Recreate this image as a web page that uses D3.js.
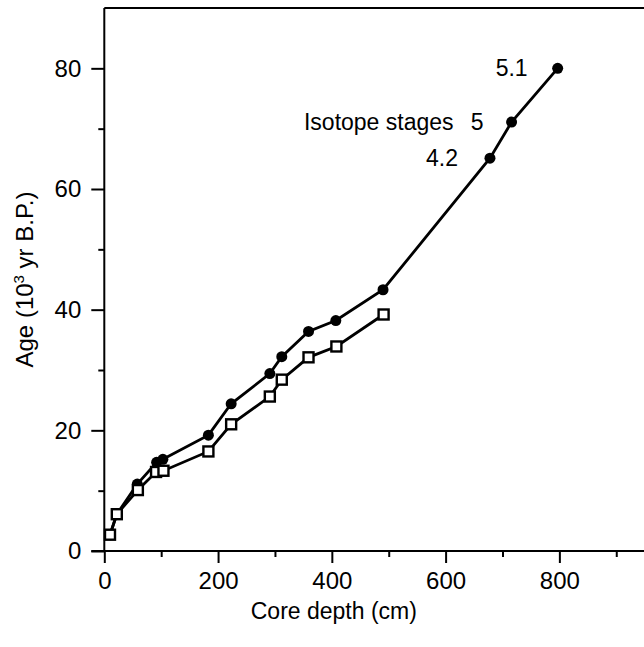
<!DOCTYPE html>
<html>
<head>
<meta charset="utf-8">
<script src="https://cdn.jsdelivr.net/npm/d3@7"></script>
<style>
  body { margin: 0; background: #fff; }
  text { font-family: "Liberation Sans", Arial, sans-serif; fill: #000; }
</style>
</head>
<body>
<div id="chart"></div>
<script>
// Age model, filled circles (depth in cm, age in 10^3 yr B.P.)
const circleDepth = [10, 22, 58, 92, 103, 183, 223, 291, 312, 359, 407, 490, 678, 716, 797];
const circleAge   = [2.7, 6.1, 11.1, 14.7, 15.2, 19.2, 24.4, 29.4, 32.2, 36.4, 38.2, 43.3, 65.1, 71.1, 80];

// Open squares
const squareDepth = [10, 22, 59, 91, 104, 183, 223, 291, 312, 359, 408, 491];
const squareAge   = [2.7, 6.1, 10.1, 13.1, 13.3, 16.5, 21.0, 25.6, 28.4, 32.1, 33.9, 39.2];

const xTicks = [0, 200, 400, 600, 800];
const xMinor = [100, 300, 500, 700, 900];
const yTicks = [0, 20, 40, 60, 80];
const yMinor = [10, 30, 50, 70];

// labels for the last three circles
const stageLabels = [
    { idx: 12, text: "4.2", dx: -32 },
    { idx: 13, text: "5", dx: -28 },
    { idx: 14, text: "5.1", dx: -30 }
];
const stageTitle = "Isotope stages";

const width = 644, height = 647;
const margin = { top: 8, left: 104.3, bottom: 96 };

const svg = d3.select("#chart").append("svg")
    .attr("width", width)
    .attr("height", height);

const x = d3.scaleLinear().domain([0, 950]).range([margin.left, margin.left + 540.4]);
const y = d3.scaleLinear().domain([0, 90]).range([height - margin.bottom, margin.top]);

const g = svg.append("g");

// minor ticks
g.append("g")
    .attr("transform", `translate(0,${y(0)})`)
    .call(d3.axisBottom(x).tickValues(xMinor).tickSize(6).tickFormat(""))
    .call(a => a.select(".domain").remove())
    .call(a => a.selectAll("line").attr("stroke-width", 2));
g.append("g")
    .attr("transform", `translate(${x(0)},0)`)
    .call(d3.axisLeft(y).tickValues(yMinor).tickSize(6).tickFormat(""))
    .call(a => a.select(".domain").remove())
    .call(a => a.selectAll("line").attr("stroke-width", 2));

// major axes
const xAxis = g.append("g")
    .attr("transform", `translate(0,${y(0)})`)
    .call(d3.axisBottom(x).tickValues(xTicks).tickSize(12).tickSizeOuter(0).tickPadding(9));
const yAxis = g.append("g")
    .attr("transform", `translate(${x(0)},0)`)
    .call(d3.axisLeft(y).tickValues(yTicks).tickSize(13).tickSizeOuter(0).tickPadding(10));

[xAxis, yAxis].forEach(a => {
    a.selectAll("line").attr("stroke-width", 2);
    a.select(".domain").attr("stroke-width", 2);
    a.selectAll("text").style("font-size", "24px");
});
xAxis.select(".domain").attr("d", `M${x(0) - 13},0H${width}`);

// top frame line
g.append("line")
    .attr("x1", x(0)).attr("x2", width)
    .attr("y1", y(90)).attr("y2", y(90))
    .attr("stroke", "#000").attr("stroke-width", 2);
yAxis.select(".domain").attr("d", `M0,${y(90)}V${y(0)}`);

// axis titles
svg.append("text")
    .attr("x", x(400) + 2)
    .attr("y", 619)
    .attr("text-anchor", "middle")
    .style("font-size", "23px")
    .text("Core depth (cm)");

const yTitle = svg.append("text")
    .attr("transform", `translate(33,${y(45)}) rotate(-90)`)
    .attr("text-anchor", "middle")
    .style("font-size", "24px");
yTitle.append("tspan").text("Age (10");
yTitle.append("tspan").attr("dy", -9).style("font-size", "15px").text("3");
yTitle.append("tspan").attr("dy", 9).text(" yr B.P.)");

const line = d3.line().x(d => x(d[0])).y(d => y(d[1]));
const circles = circleDepth.map((d, i) => [d, circleAge[i]]);
const squares = squareDepth.map((d, i) => [d, squareAge[i]]);

g.append("path").datum(circles)
    .attr("d", line).attr("fill", "none")
    .attr("stroke", "#000").attr("stroke-width", 2.8);
g.append("path").datum(squares)
    .attr("d", line).attr("fill", "none")
    .attr("stroke", "#000").attr("stroke-width", 2.8);

g.selectAll(".dot").data(circles).enter().append("circle")
    .attr("class", "dot")
    .attr("cx", d => x(d[0])).attr("cy", d => y(d[1]))
    .attr("r", 5.5).attr("fill", "#000");

const s = 10;
g.selectAll(".sq").data(squares).enter().append("rect")
    .attr("class", "sq")
    .attr("x", d => x(d[0]) - s / 2).attr("y", d => y(d[1]) - s / 2)
    .attr("width", s).attr("height", s)
    .attr("fill", "#fff").attr("stroke", "#000").attr("stroke-width", 2.4);

// isotope stage labels
g.selectAll(".stage").data(stageLabels).enter().append("text")
    .attr("class", "stage")
    .attr("x", d => x(circles[d.idx][0]) + d.dx)
    .attr("y", d => y(circles[d.idx][1]) + 8)
    .attr("text-anchor", "end")
    .style("font-size", "23px")
    .text(d => d.text);

g.append("text")
    .attr("x", x(circles[13][0]) - 58)
    .attr("y", y(circles[13][1]) + 8)
    .attr("text-anchor", "end")
    .style("font-size", "23px")
    .text(stageTitle);
</script>
</body>
</html>
